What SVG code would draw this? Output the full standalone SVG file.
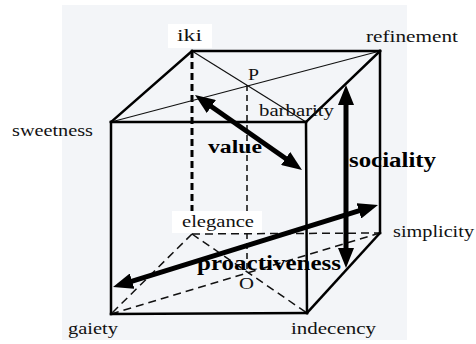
<svg xmlns="http://www.w3.org/2000/svg" width="476" height="344" viewBox="0 0 476 344">
<style>
.lbl{font-family:"Liberation Serif","Times New Roman",serif;font-size:17px;fill:#111}
.bold{font-family:"Liberation Serif","Times New Roman",serif;font-weight:bold;fill:#000}
.edge{stroke:#000;stroke-width:2.5;fill:none;stroke-linecap:square}
.thin{stroke:#111;stroke-width:1.2;fill:none}
.dashK{stroke:#000;stroke-width:3;stroke-dasharray:7 4;fill:none}
.dashP{stroke:#444;stroke-width:2;stroke-dasharray:6 4;fill:none}
.dash{stroke:#111;stroke-width:1.5;stroke-dasharray:8 5;fill:none}
.arrow{stroke:#000;stroke-width:5;fill:none;marker-start:url(#head);marker-end:url(#head)}
</style>
<defs>
<marker id="head" viewBox="0 0 20 16" markerWidth="20" markerHeight="16" refX="4" refY="8" orient="auto-start-reverse" markerUnits="userSpaceOnUse">
<path d="M0,0 L20,8 L0,16 z" fill="#000"/>
</marker>
</defs>
<rect x="0" y="0" width="476" height="344" fill="#fff"/>
<rect x="62" y="5" width="345" height="335" fill="#f3f5f8"/>
<rect x="168" y="24" width="44" height="24" fill="#fff"/>
<rect x="172" y="211" width="90" height="22" fill="#fff"/>
<g id="connectors">
<!-- hidden edges -->
<line class="dashK" x1="192" y1="51" x2="192" y2="211"/>
<line class="dashP" x1="247" y1="85" x2="247" y2="211"/>
<line class="dashP" x1="247" y1="233" x2="247" y2="272"/>
<line class="dash" x1="192" y1="234" x2="380" y2="233"/>
<line class="dash" x1="192" y1="234" x2="111" y2="314"/>
<line class="dash" x1="192" y1="234" x2="307" y2="313"/>
<line class="dash" x1="111" y1="314" x2="380" y2="233"/>
<!-- top diagonals -->
<line class="thin" x1="192" y1="51" x2="306" y2="122"/>
<line class="thin" x1="111" y1="122" x2="380" y2="51"/>
<!-- visible edges -->
<line class="edge" x1="192" y1="51" x2="380" y2="51"/>
<line class="edge" x1="192" y1="51" x2="111" y2="122"/>
<line class="edge" x1="380" y1="51" x2="306" y2="122"/>
<line class="edge" x1="380" y1="51" x2="380" y2="233"/>
<line class="edge" x1="380" y1="233" x2="307" y2="313"/>
<line class="edge" x1="111" y1="122" x2="306" y2="122"/>
<line class="edge" x1="111" y1="122" x2="111" y2="314"/>
<line class="edge" x1="306" y1="122" x2="307" y2="313"/>
<line class="edge" x1="111" y1="314" x2="307" y2="313"/>
<!-- arrows -->
<line class="arrow" x1="208.1" y1="104.2" x2="288.9" y2="160.8"/>
<line class="arrow" x1="346" y1="101" x2="346" y2="252"/>
<line class="arrow" x1="128.3" y1="282.3" x2="362.7" y2="209.7"/>
</g>
<g id="iki"><text class="lbl" x="177" y="41" textLength="25" lengthAdjust="spacingAndGlyphs">iki</text></g>
<g id="refinement"><text class="lbl" x="366" y="42" textLength="92" lengthAdjust="spacingAndGlyphs">refinement</text></g>
<g id="sweetness"><text class="lbl" x="12" y="136" textLength="81" lengthAdjust="spacingAndGlyphs">sweetness</text></g>
<g id="barbarity"><text class="lbl" x="259" y="116" textLength="75" lengthAdjust="spacingAndGlyphs">barbarity</text></g>
<g id="P"><text class="lbl" x="248" y="80" textLength="11" lengthAdjust="spacingAndGlyphs">P</text></g>
<g id="elegance"><text class="lbl" x="182" y="227" textLength="72" lengthAdjust="spacingAndGlyphs">elegance</text></g>
<g id="simplicity"><text class="lbl" x="393" y="237" textLength="81" lengthAdjust="spacingAndGlyphs">simplicity</text></g>
<g id="O"><text class="lbl" x="239" y="289" textLength="15" lengthAdjust="spacingAndGlyphs">O</text></g>
<g id="gaiety"><text class="lbl" x="68" y="334" textLength="50" lengthAdjust="spacingAndGlyphs">gaiety</text></g>
<g id="indecency"><text class="lbl" x="291" y="334" textLength="85" lengthAdjust="spacingAndGlyphs">indecency</text></g>
<g id="value"><text class="bold" x="208" y="153" font-size="18" textLength="54" lengthAdjust="spacingAndGlyphs">value</text></g>
<g id="sociality"><text class="bold" x="349" y="167" font-size="20" textLength="87" lengthAdjust="spacingAndGlyphs">sociality</text></g>
<g id="proactiveness"><text class="bold" x="197" y="270" font-size="20" textLength="144" lengthAdjust="spacingAndGlyphs">proactiveness</text></g>
</svg>
